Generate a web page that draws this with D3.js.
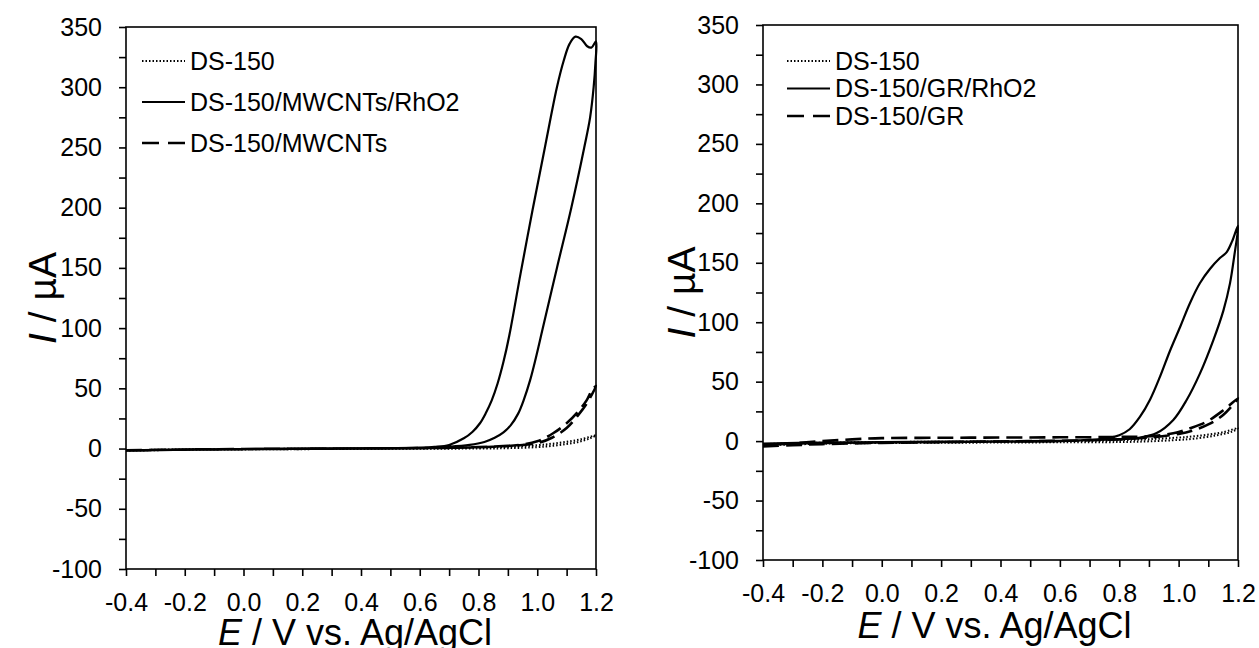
<!DOCTYPE html>
<html>
<head>
<meta charset="utf-8">
<script src="https://cdn.jsdelivr.net/npm/d3@7"></script>
<style>
  body { margin: 0; background: #fff; }
  svg { font-family: "Liberation Sans", Arial, sans-serif; }
  .axis path, .axis line { stroke: #000; stroke-width: 1.6; }
  .axis text { font-size: 25px; fill: #000; }
</style>
</head>
<body>
<script>
// tick values
const xTicks = [-0.4, -0.3, -0.2, -0.1, 0.0, 0.1, 0.2, 0.3, 0.4, 0.5, 0.6, 0.7, 0.8, 0.9, 1.0, 1.1, 1.2]
const yTicks = [-100, -75, -50, -25, 0, 25, 50, 75, 100, 125, 150, 175, 200, 225, 250, 275, 300, 325, 350]

// left panel series, [E (V), I (uA)] going out and back
const leftDS150 = [[-0.4, -1.5], [-0.3, -1], [-0.2, -0.7], [0, -0.4], [0.2, -0.2], [0.4, 0], [0.6, 0.2], [0.7, 0.5], [0.8, 0.8], [0.9, 1.5], [1.0, 2.8], [1.05, 4], [1.1, 5.6], [1.15, 7.8], [1.2, 11],
    [1.18, 8.5], [1.14, 5.5], [1.1, 3.8], [1.05, 2.2], [1.0, 1.2], [0.9, 0.3], [0.8, 0], [0.6, -0.1], [0.4, -0.3], [0.2, -0.5], [0, -0.7], [-0.2, -1], [-0.4, -1.8]]
const leftRhO2 = [[-0.4, -1.5], [-0.2, -0.8], [0, -0.4], [0.2, -0.1], [0.4, 0.1], [0.6, 0.6], [0.7, 1.5], [0.77, 3], [0.82, 5.5], [0.855, 9], [0.885, 13.5], [0.91, 19.5], [0.935, 29], [0.955, 41], [0.976, 57], [0.995, 75], [1.018, 99], [1.067, 150], [1.116, 200], [1.16, 250], [1.18, 275], [1.192, 300], [1.198, 320], [1.2, 338],
    [1.185, 333], [1.17, 334], [1.15, 340], [1.13, 342], [1.11, 336], [1.09, 322], [1.067, 300], [1.026, 250], [0.984, 198], [0.943, 145], [0.905, 94], [0.885, 72], [0.865, 54], [0.845, 40], [0.825, 29.5], [0.805, 21], [0.78, 14], [0.75, 8.5], [0.7, 3], [0.65, 1.4], [0.6, 0.8], [0.4, 0.2], [0.2, -0.1], [0, -0.4], [-0.2, -0.8], [-0.4, -1.6]]
const leftMWCNTs = [[-0.4, -1.5], [-0.2, -0.8], [0, -0.4], [0.2, -0.1], [0.4, 0.1], [0.6, 0.4], [0.8, 1.2], [0.9, 2.2], [0.95, 3], [1.0, 4.5], [1.05, 9], [1.1, 17], [1.14, 28], [1.17, 38], [1.2, 52],
    [1.185, 48], [1.168, 40], [1.14, 31], [1.1, 21], [1.054, 12.7], [1.0, 6], [0.94, 3], [0.85, 1.5], [0.7, 0.6], [0.5, 0.2], [0.2, -0.2], [0, -0.5], [-0.2, -0.9], [-0.4, -1.6]]

// right panel series
const rightDS150 = [[-0.4, -2.5], [-0.3, -1.8], [-0.2, -1.3], [0, -0.8], [0.2, -0.5], [0.4, -0.3], [0.6, 0], [0.8, 0.8], [0.9, 1.6], [1.0, 3], [1.05, 4], [1.1, 5.5], [1.15, 7.5], [1.2, 11],
    [1.18, 8], [1.12, 4.5], [1.05, 2], [1.0, 1], [0.9, -0.2], [0.8, -0.8], [0.6, -1], [0.4, -1.2], [0.2, -1.4], [0, -1.6], [-0.2, -2.2], [-0.4, -3.5]]
const rightRhO2 = [[-0.4, -2], [-0.2, -1.2], [0, -0.8], [0.2, -0.5], [0.4, -0.2], [0.6, 0.2], [0.7, 0.8], [0.8, 1.6], [0.87, 3], [0.926, 6.8], [0.982, 17.8], [1.027, 34.6], [1.072, 57], [1.117, 85], [1.151, 110], [1.173, 132.7], [1.187, 155], [1.2, 181],
    [1.18, 168], [1.162, 159], [1.139, 154], [1.106, 145], [1.072, 133], [1.038, 116], [1.005, 96], [0.971, 76], [0.937, 54], [0.904, 35], [0.87, 20.5], [0.835, 10], [0.8, 5], [0.76, 2.4], [0.7, 1], [0.6, 0], [0.4, -0.5], [0.2, -0.8], [0, -1.2], [-0.2, -1.8], [-0.4, -2.5]]
const rightGR = [[-0.4, -4.5], [-0.3, -3.5], [-0.2, -2.5], [0, -1.5], [0.2, -0.8], [0.4, -0.3], [0.6, 0.3], [0.8, 1.5], [0.9, 3], [1.0, 6], [1.05, 9], [1.1, 14], [1.15, 22], [1.2, 36],
    [1.151, 26], [1.095, 16.4], [1.038, 10.8], [0.982, 6.6], [0.904, 4.2], [0.79, 3.5], [0.6, 3.2], [0.4, 3], [0.2, 2.8], [0, 2.5], [-0.1, 1.5], [-0.2, 0], [-0.3, -1.8], [-0.4, -3.5]]

const leftNames = ['DS-150', 'DS-150/MWCNTs/RhO2', 'DS-150/MWCNTs']
const rightNames = ['DS-150', 'DS-150/GR/RhO2', 'DS-150/GR']

// line styles: dotted, solid, dashed
const styles = [
    { width: 2, dash: '1.5,2', legDash: '1.5,2' },
    { width: 2.2, dash: null, legDash: null },
    { width: 2.6, dash: '16,7', legDash: '17,9' }
]

const svg = d3.select('body').append('svg')
    .attr('width', 1259)
    .attr('height', 648)

drawPanel({
    left: 126, right: 596, top: 27, bottom: 569,
    series: [leftDS150, leftRhO2, leftMWCNTs],
    names: leftNames,
    legend: { x: 142, y: 61, step: 41 },
    yTitleX: 42, xTitleY: 645
})

drawPanel({
    left: 763, right: 1238, top: 25, bottom: 560,
    series: [rightDS150, rightRhO2, rightGR],
    names: rightNames,
    legend: { x: 787, y: 61, step: 27.5 },
    yTitleX: 681, xTitleY: 638
})

function drawPanel(cfg) {
    const w = cfg.right - cfg.left
    const h = cfg.bottom - cfg.top
    const g = svg.append('g')
        .attr('transform', `translate(${cfg.left},${cfg.top})`)

    const xScale = d3.scaleLinear().domain([-0.4, 1.2]).range([0, w])
    const yScale = d3.scaleLinear().domain([-100, 350]).range([h, 0])

    // frame
    g.append('rect')
        .attr('width', w).attr('height', h)
        .attr('fill', 'none').attr('stroke', '#000').attr('stroke-width', 1.6)

    // labels on every other tick, plain hyphen for minus
    const xAxis = d3.axisBottom(xScale)
        .tickValues(xTicks)
        .tickSize(7).tickPadding(17)
        .tickFormat(d => Math.round(d * 10) % 2 === 0 ? d.toFixed(1) : '')
    g.append('g')
        .attr('class', 'x axis')
        .attr('transform', `translate(0,${h})`)
        .call(xAxis)

    const yAxis = d3.axisLeft(yScale)
        .tickValues(yTicks)
        .tickSize(7).tickPadding(17)
        .tickFormat(d => d % 50 === 0 ? String(d) : '')
    g.append('g')
        .attr('class', 'y axis')
        .call(yAxis)

    g.selectAll('.axis .domain').remove()

    const line = d3.line()
        .x(d => xScale(d[0]))
        .y(d => yScale(d[1]))
        .curve(d3.curveCatmullRom.alpha(0.5))

    g.selectAll('path.curve')
        .data(cfg.series)
        .enter().append('path')
        .attr('class', 'curve')
        .attr('d', line)
        .attr('fill', 'none')
        .attr('stroke', '#000')
        .attr('stroke-width', (d, i) => styles[i].width)
        .attr('stroke-dasharray', (d, i) => styles[i].dash)
        .attr('stroke-linejoin', 'round')

    // legend
    const leg = svg.append('g')
    cfg.names.forEach((name, i) => {
        const y = cfg.legend.y + i * cfg.legend.step
        leg.append('line')
            .attr('x1', cfg.legend.x).attr('x2', cfg.legend.x + 43)
            .attr('y1', y).attr('y2', y)
            .attr('stroke', '#000')
            .attr('stroke-width', styles[i].width)
            .attr('stroke-dasharray', styles[i].legDash)
        leg.append('text')
            .attr('x', cfg.legend.x + 48).attr('y', y)
            .attr('dy', '0.35em')
            .attr('font-size', 25)
            .text(name)
    })

    // axis titles
    const xt = svg.append('text')
        .attr('x', cfg.left + w / 2 - 6).attr('y', cfg.xTitleY)
        .attr('text-anchor', 'middle')
        .attr('font-size', 36)
    xt.append('tspan').attr('font-style', 'italic').text('E')
    xt.append('tspan').text(' / V vs. Ag/AgCl')

    const yt = svg.append('text')
        .attr('transform', `translate(${cfg.yTitleX},${cfg.top + h / 2}) rotate(-90)`)
        .attr('text-anchor', 'middle')
        .attr('dy', '0.35em')
        .attr('font-size', 39)
    yt.append('tspan').attr('font-style', 'italic').text('I')
    yt.append('tspan').text(' / µA')
}
</script>
</body>
</html>
